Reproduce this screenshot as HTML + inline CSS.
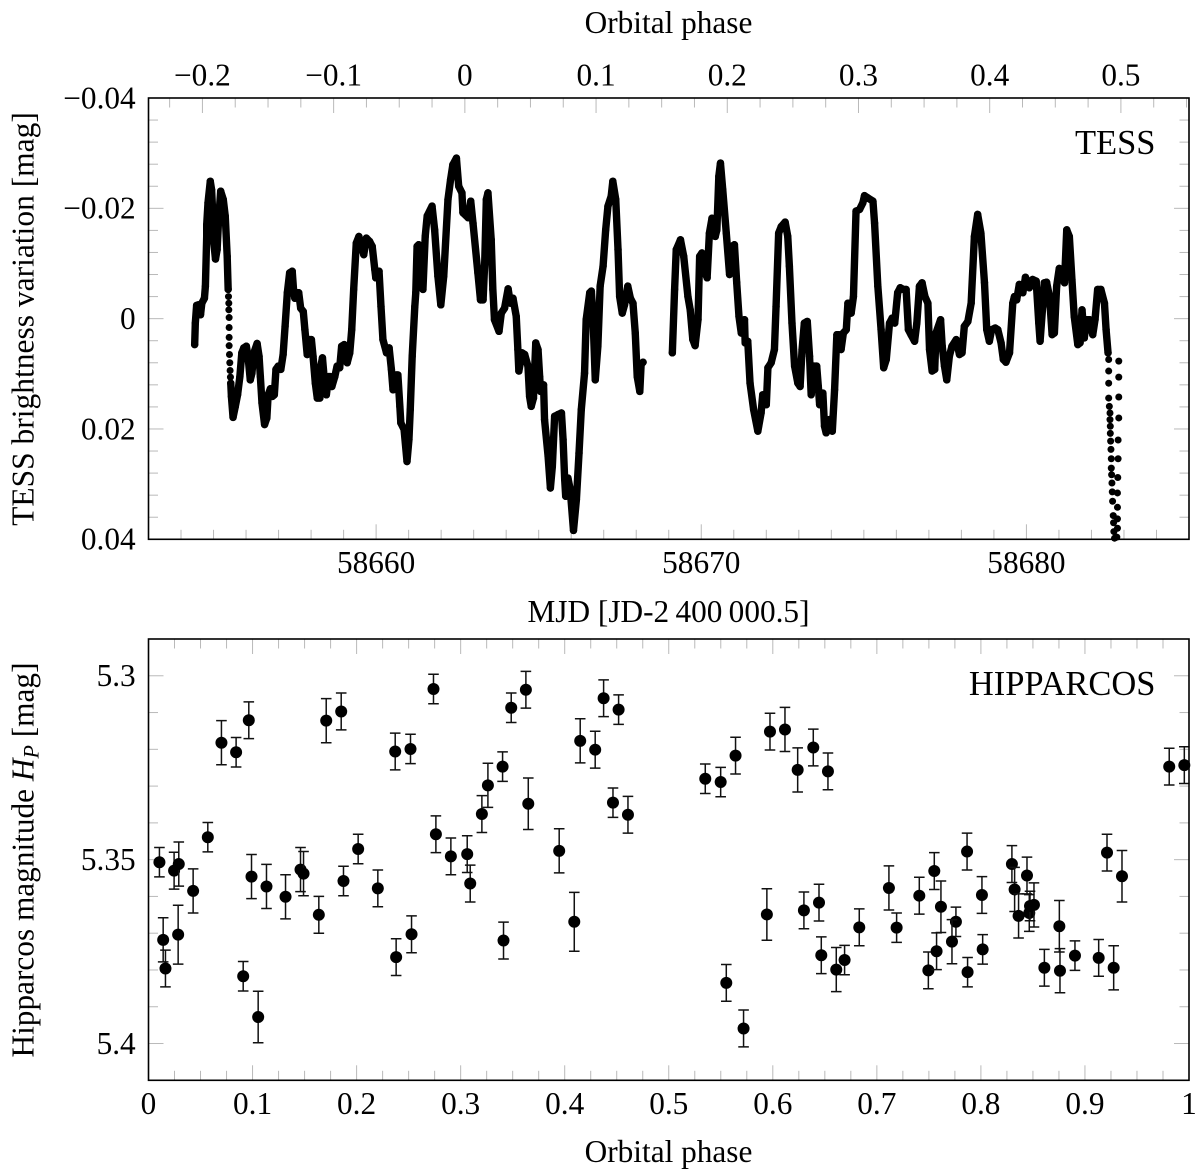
<!DOCTYPE html>
<html lang="en">
<head>
<meta charset="utf-8">
<title>TESS and Hipparcos light curves</title>
<style>
html,body{margin:0;padding:0;background:#fff;}
svg{display:block;}
text{font-family:"Liberation Serif","Times New Roman",serif;fill:#000;font-size:31.3px;}
</style>
</head>
<body>
<svg id="figure" xmlns="http://www.w3.org/2000/svg" width="1200" height="1175" viewBox="0 0 1200 1175">
  <rect x="0" y="0" width="1200" height="1175" fill="#fff"/>
  <g id="tess-ticks"></g>
  <g id="hip-ticks"></g>
  <g id="tess-marks"></g>
  <g id="hip-marks"></g>
  <rect x="148.5" y="98" width="1040.5" height="441.3" fill="none" stroke="#000" stroke-width="1.6"/>
  <rect x="148.5" y="639" width="1040.5" height="441.3" fill="none" stroke="#000" stroke-width="1.6"/>
  <g id="tess-labels"></g>
  <g id="hip-labels"></g>
  <text x="668.5" y="33" text-anchor="middle">Orbital phase</text>
  <text x="668.5" y="622" text-anchor="middle">MJD [JD-2&#8201;400&#8201;000.5]</text>
  <text x="668.5" y="1162" text-anchor="middle">Orbital phase</text>
  <text transform="translate(33.5 319) rotate(-90)" text-anchor="middle" style="font-size:31.5px">TESS brightness variation [mag]</text>
  <text transform="translate(33.5 860) rotate(-90)" text-anchor="middle">Hipparcos magnitude <tspan font-style="italic">H</tspan><tspan font-style="italic" font-size="22" dy="5">P</tspan><tspan dy="-5"> [mag]</tspan></text>
  <text x="1155.5" y="154" text-anchor="end" style="font-size:34.5px">TESS</text>
  <text x="1155.5" y="695" text-anchor="end" style="font-size:34.5px">HIPPARCOS</text>
</svg>
<script>
// ---- TESS data: [days since MJD 58650, brightness variation in millimag] ----
const tessEpoch = 58650;
const tessRunA = [[4.42,4.7],[4.44,0.8],[4.48,-2.4],[4.53,-2.5],[4.60,-0.7],[4.64,-2.8],[4.72,-3.7],[4.75,-5.9],[4.79,-14.9],[4.79,-17.0],[4.83,-21.0],[4.90,-24.9],[4.94,-23.4],[4.98,-18.6],[5.01,-13.7],[5.06,-10.8],[5.11,-12.5],[5.15,-17.3],[5.22,-23.1],[5.30,-21.6],[5.36,-18.6],[5.42,-11.3],[5.45,-5.3]];
const tessDropA = [[5.46,-4.0],[5.47,-2.8],[5.47,-1.6],[5.48,-0.2],[5.48,1.6],[5.48,3.4],[5.48,4.9],[5.49,6.5],[5.50,8.0],[5.51,9.4],[5.52,10.6]];
const tessRunB = [[5.53,11.7],[5.55,14.1],[5.60,17.9],[5.67,15.9],[5.74,13.8],[5.81,10.5],[5.87,6.2],[5.93,5.3],[6.01,5.0],[6.06,6.8],[6.13,11.1],[6.18,9.9],[6.24,6.2],[6.34,4.5],[6.40,6.8],[6.44,10.5],[6.49,15.3],[6.57,19.2],[6.64,18.0],[6.68,13.8],[6.75,12.7],[6.81,14.1],[6.87,13.8],[6.92,9.2],[6.99,8.6],[7.07,9.2],[7.14,6.5],[7.20,1.4],[7.27,-4.7],[7.34,-8.3],[7.42,-8.6],[7.46,-5.3],[7.50,-3.7],[7.55,-4.7],[7.62,-4.7],[7.68,-1.9],[7.76,-1.3],[7.81,2.0],[7.88,6.5],[7.94,3.8],[8.01,3.8],[8.06,6.8],[8.13,11.7],[8.19,14.4],[8.27,14.4],[8.30,8.6],[8.35,7.1],[8.40,10.5],[8.47,13.8],[8.54,10.5],[8.59,10.5],[8.64,12.3],[8.73,10.5],[8.80,8.6],[8.88,8.9],[8.94,5.0],[9.02,4.7],[9.11,8.0],[9.19,6.2],[9.25,2.0],[9.31,-5.3],[9.39,-13.7],[9.47,-14.9],[9.55,-13.1],[9.62,-11.6],[9.70,-14.6],[9.80,-14.0],[9.88,-13.1],[9.96,-8.9],[9.99,-7.4],[10.09,-8.6],[10.15,-2.2],[10.21,3.8],[10.32,6.2],[10.40,5.3],[10.47,9.2],[10.52,12.9],[10.62,10.2],[10.67,10.2],[10.73,15.9],[10.76,18.9],[10.86,20.1],[10.95,25.9],[11.01,21.9],[11.05,16.5],[11.11,6.8],[11.19,-2.2],[11.22,-4.7],[11.26,-13.1],[11.31,-13.4],[11.36,-7.1],[11.44,-5.3],[11.51,-14.9],[11.57,-18.6],[11.72,-20.4],[11.80,-16.1],[11.90,-7.7],[11.99,-2.5],[12.08,-7.7],[12.21,-21.6],[12.29,-25.2],[12.36,-27.9],[12.47,-29.1],[12.54,-24.0],[12.64,-22.8],[12.67,-19.2],[12.83,-18.3],[12.91,-21.3],[12.98,-17.3],[13.13,-8.3],[13.21,-3.4],[13.29,-3.4],[13.34,-10.1],[13.39,-21.6],[13.44,-22.8],[13.54,-14.3],[13.59,-5.3],[13.64,0.2],[13.78,2.3],[13.85,-1.0],[13.95,-1.9],[14.06,-5.4],[14.13,-2.8],[14.21,-3.7],[14.31,-0.4],[14.36,5.6],[14.39,9.5],[14.49,6.2],[14.57,6.5],[14.67,8.6],[14.72,14.1],[14.77,15.9],[14.84,14.4],[14.91,4.4],[14.98,5.6],[15.03,10.5],[15.06,13.2],[15.15,12.0],[15.18,18.3],[15.29,25.0],[15.36,30.7],[15.42,26.8],[15.49,17.7],[15.59,17.4],[15.70,17.1],[15.75,21.9],[15.80,29.2],[15.83,32.2],[15.90,28.9],[15.97,31.0],[16.07,38.4],[16.16,32.8],[16.24,24.4],[16.31,16.5],[16.41,9.9],[16.46,0.2],[16.57,-4.7],[16.62,-5.0],[16.67,-0.4],[16.74,11.1],[16.82,5.0],[16.89,-5.9],[16.98,-9.5],[17.06,-16.1],[17.13,-20.4],[17.23,-22.2],[17.28,-24.9],[17.37,-21.6],[17.44,-12.5],[17.49,-4.0],[17.57,-1.0],[17.64,-2.5],[17.74,-5.9],[17.82,-3.7],[17.90,-2.8],[17.97,2.6],[18.03,10.5],[18.11,13.2],[18.15,8.3],[18.21,7.9]];
const tessRunC = [[19.11,6.2],[19.18,-5.3],[19.23,-12.5],[19.36,-14.3],[19.46,-11.3],[19.59,-4.0],[19.66,-1.6],[19.74,3.8],[19.81,4.9],[19.90,0.2],[19.95,-11.3],[20.02,-11.9],[20.08,-8.9],[20.18,-7.4],[20.25,-15.5],[20.33,-18.2],[20.43,-14.9],[20.48,-16.1],[20.54,-25.8],[20.59,-28.2],[20.66,-23.4],[20.77,-15.5],[20.87,-8.0],[20.94,-13.1],[21.02,-13.4],[21.09,-6.5],[21.16,-0.4],[21.23,2.6],[21.33,0.2],[21.35,4.4],[21.43,4.1],[21.50,11.7],[21.61,16.5],[21.74,20.4],[21.84,17.1],[21.89,13.8],[22.00,15.6],[22.05,8.9],[22.15,8.0],[22.25,5.6],[22.30,-2.2],[22.38,-15.5],[22.46,-16.7],[22.58,-17.5],[22.66,-14.9],[22.71,-9.5],[22.79,0.8],[22.87,8.6],[22.97,11.7],[23.04,12.3],[23.10,5.6],[23.17,0.8],[23.26,0.5],[23.33,6.8],[23.38,13.8],[23.46,8.6],[23.55,8.6],[23.60,12.3],[23.64,15.6],[23.74,13.5],[23.79,19.5],[23.84,20.7],[23.94,18.3],[24.03,20.4],[24.10,12.9],[24.17,2.9],[24.23,2.9],[24.30,5.6],[24.37,2.6],[24.46,2.0],[24.51,-2.8],[24.61,-1.0],[24.68,-4.0],[24.76,-19.5],[24.87,-19.8],[24.97,-21.0],[25.02,-22.3],[25.12,-21.9],[25.28,-21.3],[25.33,-17.3],[25.43,-5.9],[25.53,2.0],[25.61,8.9],[25.69,7.4],[25.79,0.8],[25.87,-0.1],[25.95,0.8],[26.04,-4.7],[26.12,-5.6],[26.22,-5.3],[26.30,-5.3],[26.37,2.0],[26.45,2.9],[26.56,4.1],[26.63,0.8],[26.71,-5.9],[26.79,-6.5],[26.88,-4.0],[26.97,-2.8],[27.02,5.6],[27.10,9.5],[27.18,9.2],[27.22,2.6],[27.36,0.2],[27.41,5.0],[27.48,8.6],[27.55,11.1],[27.63,6.8],[27.71,5.0],[27.84,3.8],[27.94,6.5],[28.02,6.2],[28.09,1.4],[28.20,0.5],[28.30,-2.8],[28.40,-14.9],[28.50,-18.9],[28.60,-15.5],[28.71,-6.5],[28.78,2.0],[28.86,4.1],[28.93,2.0],[29.04,1.7],[29.12,2.0],[29.22,4.4],[29.29,7.4],[29.37,7.9],[29.48,6.2],[29.58,-2.8],[29.63,-4.0],[29.70,-3.4],[29.78,-6.2],[29.89,-4.7],[29.97,-7.5],[30.09,-5.6],[30.19,-7.1],[30.30,-6.8],[30.38,0.8],[30.42,4.1],[30.50,-2.2],[30.55,-6.5],[30.62,-6.6],[30.71,-4.0],[30.79,2.9],[30.86,2.6],[30.93,-5.9],[31.01,-9.1],[31.10,-8.9],[31.17,-6.5],[31.24,-16.1],[31.32,-14.9],[31.40,-7.1],[31.47,-0.4],[31.58,4.7],[31.65,4.4],[31.71,-1.6],[31.78,3.5],[31.85,0.2],[31.94,0.2],[32.04,2.9],[32.11,0.2],[32.19,-5.3],[32.29,-5.3],[32.40,-2.8],[32.45,2.0],[32.51,6.2]];
const tessDropB = [[32.53,7.4],[32.53,9.5],[32.53,11.7],[32.53,14.4],[32.55,15.9],[32.57,17.1],[32.57,18.3],[32.58,19.5],[32.58,20.8],[32.59,22.2],[32.60,23.7],[32.61,25.4],[32.61,27.1],[32.62,28.3],[32.63,29.8],[32.64,31.4],[32.65,33.1],[32.67,35.7],[32.68,37.0],[32.69,38.6],[32.71,39.8]];
const tessDropC = [[32.84,7.7],[32.84,10.6],[32.84,14.2],[32.84,18.0],[32.82,22.0],[32.82,25.4],[32.81,28.8],[32.80,31.6],[32.80,34.2],[32.80,36.3],[32.80,38.0],[32.78,39.6]];
const tessYTickValues = [-40,-36,-32,-28,-24,-20,-16,-12,-8,-4,0,4,8,12,16,20,24,28,32,36,40];
const tessYTickLabels = ["\u22120.04","\u22120.02","0","0.02","0.04"];
const tessYLabelValues = [-40,-20,0,20,40];
const mjdTickLabels = ["58660","58670","58680"];
const mjdLabelValues = [58660,58670,58680];
const phaseTopLabels = ["\u22120.2","\u22120.1","0","0.1","0.2","0.3","0.4","0.5"];
const phaseTopValues = [-0.2,-0.1,0,0.1,0.2,0.3,0.4,0.5];

// ---- Hipparcos data: orbital phase, magnitude, 1-sigma error ----
const hipPhase = [
.0105,.0141,.0163,.0246,.0291,.0285,.0429,.0570,.0701,.0842,
.0964,.0990,.0910,.1054,.1134,.1317,.1461,.1490,.1637,.1708,
.1852,.1874,.2015,.2204,.2371,.2518,.2380,.2528,.2739,.2762,
.2906,.3063,.3092,.3204,.3262,.3403,.3412,.3486,.3627,.3650,
.3947,.4092,.4149,.4293,.4374,.4464,.4518,.4608,.5351,.5499,
.5642,.5553,.5719,.5973,.6117,.5943,.6239,.6389,.6299,.6444,
.6530,.6466,.6610,.6690,.6831,.7116,.7190,.7408,.7552,.7495,
.7574,.7616,.7760,.7722,.7867,.7872,.8010,.8017,.8298,.8324,
.8362,.8443,.8465,.8472,.8510,.8754,.8610,.8760,.8904,.9132,
.9212,.9276,.9356,.9810,.9955];
const hipMag = [
5.3507,5.3718,5.3796,5.3530,5.3512,5.3704,5.3585,5.3439,5.3182,5.3208,
5.3121,5.3546,5.3817,5.3928,5.3573,5.3601,5.3527,5.3538,5.3650,5.3122,
5.3097,5.3558,5.3471,5.3578,5.3206,5.3199,5.3765,5.3703,5.3036,5.3431,
5.3491,5.3485,5.3565,5.3376,5.3298,5.3247,5.3720,5.3087,5.3038,5.3348,
5.3476,5.3669,5.3177,5.3201,5.3061,5.3345,5.3092,5.3378,5.3280,5.3289,
5.3217,5.3835,5.3959,5.3152,5.3146,5.3649,5.3256,5.3195,5.3638,5.3617,
5.3260,5.3760,5.3799,5.3773,5.3684,5.3577,5.3685,5.3598,5.3531,5.3801,
5.3749,5.3628,5.3669,5.3723,5.3478,5.3806,5.3596,5.3744,5.3512,5.3581,
5.3653,5.3543,5.3645,5.3626,5.3623,5.3681,5.3794,5.3802,5.3761,5.3767,
5.3481,5.3794,5.3545,5.3247,5.3243];
const hipErr = [
.004,.006,.005,.005,.006,.008,.006,.004,.006,.004,
.005,.006,.004,.007,.006,.006,.006,.006,.005,.006,
.005,.004,.004,.005,.005,.004,.005,.005,.004,.005,
.005,.005,.005,.005,.006,.004,.005,.004,.005,.007,
.006,.008,.006,.005,.005,.004,.004,.005,.004,.004,
.005,.005,.005,.005,.006,.007,.006,.005,.005,.005,
.005,.005,.006,.004,.005,.006,.004,.005,.005,.005,
.005,.007,.004,.006,.005,.004,.005,.004,.005,.006,
.006,.005,.005,.004,.006,.007,.005,.006,.004,.005,
.005,.006,.007,.005,.005];
const hipYLabels = ["5.3","5.35","5.4"];
const hipYLabelValues = [5.3,5.35,5.4];
const hipXLabels = ["0","0.1","0.2","0.3","0.4","0.5","0.6","0.7","0.8","0.9","1"];
const hipXLabelValues = [0,0.1,0.2,0.3,0.4,0.5,0.6,0.7,0.8,0.9,1];

// ---- Layout ----
const NS = "http://www.w3.org/2000/svg";
const plotLeft = 148.5, plotRight = 1189;
const tessTop = 98, tessBottom = 539.3;
const hipTop = 639, hipBottom = 1080.3;
const majorLen = 15, minorLen = 9.5;

const linear = (d0, d1, r0, r1) => v => r0 + (v - d0) * (r1 - r0) / (d1 - d0);
const xMjd = linear(58653, 58685, plotLeft, plotRight);
const xPhaseTop = linear(-0.2411, 0.5519, plotLeft, plotRight);
const yTess = linear(-40, 40, tessTop, tessBottom);
const xPhase = linear(0, 1, plotLeft, plotRight);
const yHip = linear(5.29, 5.41, hipTop, hipBottom);

function tickLine(parent, x1, y1, x2, y2) {
  const el = document.createElementNS(NS, "line");
  el.setAttribute("x1", x1);
  el.setAttribute("y1", y1);
  el.setAttribute("x2", x2);
  el.setAttribute("y2", y2);
  el.setAttribute("stroke", "#b9b9b9");
  el.setAttribute("stroke-width", "1");
  
  
  parent.appendChild(el);
}
function label(parent, x, y, str, anchor) {
  const el = document.createElementNS(NS, "text");
  el.setAttribute("x", x);
  el.setAttribute("y", y);
  el.setAttribute("text-anchor", anchor);
  el.textContent = str;
  
  
  parent.appendChild(el);
}
function xTicks(parent, scale, from, to, step, isMajor, top, bottom, both) {
  const n = Math.round((to - from) / step);
  for (let i = 0; i <= n; i++) {
    const v = from + i * step;
    const len = isMajor(v) ? majorLen : minorLen;
    const x = scale(v);
    if (both !== "top") tickLine(parent, x, bottom, x, bottom - len);
    if (both !== "bottom") tickLine(parent, x, top, x, top + len);
  }
}
function yTicks(parent, scale, values, isMajor) {
  values.forEach(v => {
    const y = scale(v);
    const len = isMajor(v) ? majorLen : minorLen;
    tickLine(parent, plotLeft, y, plotLeft + len, y);
    tickLine(parent, plotRight, y, plotRight - len, y);
  });
}
const near = (v, m) => Math.abs(v / m - Math.round(v / m)) < 1e-6;

// ---- TESS panel axes ----
const tessTicks = document.getElementById("tess-ticks");
const tessLabels = document.getElementById("tess-labels");
xTicks(tessTicks, xMjd, 58654, 58684, 1, v => near(v, 10), tessTop, tessBottom, "bottom");
xTicks(tessTicks, xPhaseTop, -0.225, 0.55, 0.025, v => near(v, 0.1), tessTop, tessBottom, "top");
yTicks(tessTicks, yTess, tessYTickValues, v => near(v, 20));
tessYLabelValues.forEach((v, i) => label(tessLabels, 135.7, yTess(v) + 10.3, tessYTickLabels[i], "end"));
mjdLabelValues.forEach((v, i) => label(tessLabels, xMjd(v), 573, mjdTickLabels[i], "middle"));
phaseTopValues.forEach((v, i) => label(tessLabels, xPhaseTop(v), 85.7, phaseTopLabels[i], "middle"));

// ---- Hipparcos panel axes ----
const hipTicks = document.getElementById("hip-ticks");
const hipLabels = document.getElementById("hip-labels");
xTicks(hipTicks, xPhase, 0.025, 0.975, 0.025, v => near(v, 0.1), hipTop, hipBottom, "both");
const hipYTicks = [5.3,5.31,5.32,5.33,5.34,5.35,5.36,5.37,5.38,5.39,5.4];
yTicks(hipTicks, yHip, hipYTicks, v => near(v, 0.05));
hipYLabelValues.forEach((v, i) => label(hipLabels, 135.7, yHip(v) + 10.3, hipYLabels[i], "end"));
hipXLabelValues.forEach((v, i) => label(hipLabels, xPhase(v), 1114, hipXLabels[i], "middle"));

// ---- TESS marks ----
const tessMarks = document.getElementById("tess-marks");
function tessPoints(run, radius) {
  run.forEach(p => {
    const c = document.createElementNS(NS, "circle");
    c.setAttribute("cx", xMjd(tessEpoch + p[0]).toFixed(2));
    c.setAttribute("cy", yTess(p[1]).toFixed(2));
    c.setAttribute("r", radius);
    c.setAttribute("fill", "#000");
    
    
    tessMarks.appendChild(c);
  });
}
function tessTrace(run) {
  const line = document.createElementNS(NS, "polyline");
  line.setAttribute("points", run.map(p => xMjd(tessEpoch + p[0]).toFixed(2) + "," + yTess(p[1]).toFixed(2)).join(" "));
  line.setAttribute("fill", "none");
  line.setAttribute("stroke", "#000");
  line.setAttribute("stroke-width", "7.4");
  line.setAttribute("stroke-linejoin", "round");
  line.setAttribute("stroke-linecap", "round");
  
  
  tessMarks.appendChild(line);
}
[tessRunA, tessRunB, tessRunC].forEach(tessTrace);
[tessRunA, tessRunB, tessRunC].forEach(run => tessPoints(run, 3.7));
[tessDropA, tessDropB, tessDropC].forEach(run => tessPoints(run, 3.5));

// ---- Hipparcos marks ----
const hipMarks = document.getElementById("hip-marks");
const capHalf = 5.3;
hipPhase.forEach((ph, i) => {
  const x = xPhase(ph);
  const y = yHip(hipMag[i]);
  const yUp = yHip(hipMag[i] - hipErr[i]);
  const yDn = yHip(hipMag[i] + hipErr[i]);
  const bar = document.createElementNS(NS, "path");
  bar.setAttribute("d",
    "M" + x.toFixed(2) + " " + yUp.toFixed(2) + "V" + yDn.toFixed(2) +
    "M" + (x - capHalf).toFixed(2) + " " + yUp.toFixed(2) + "H" + (x + capHalf).toFixed(2) +
    "M" + (x - capHalf).toFixed(2) + " " + yDn.toFixed(2) + "H" + (x + capHalf).toFixed(2));
  bar.setAttribute("fill", "none");
  bar.setAttribute("stroke", "#111");
  bar.setAttribute("stroke-width", "1.5");
  
  
  hipMarks.appendChild(bar);
  const dot = document.createElementNS(NS, "circle");
  dot.setAttribute("cx", x.toFixed(2));
  dot.setAttribute("cy", y.toFixed(2));
  dot.setAttribute("r", "6");
  dot.setAttribute("fill", "#000");
  
  
  hipMarks.appendChild(dot);
});
</script>
</body>
</html>
